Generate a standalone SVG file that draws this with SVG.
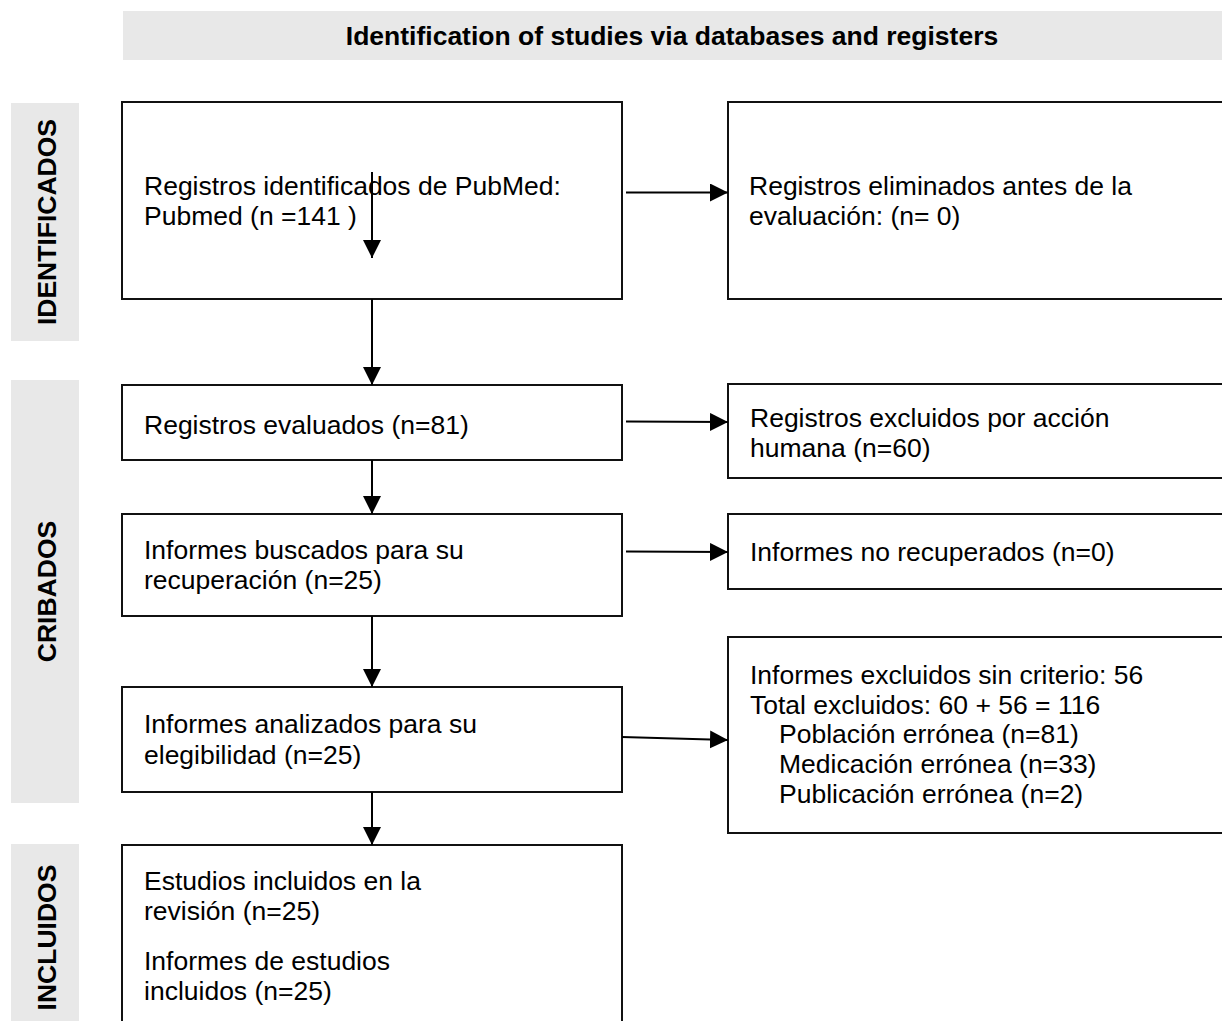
<svg xmlns="http://www.w3.org/2000/svg" width="1222" height="1021" viewBox="0 0 1222 1021">
<style>
.band{fill:#e8e8e8;}
.box{fill:#fff;stroke:#111;stroke-width:2;}
.t{font-family:"Liberation Sans",Arial,sans-serif;font-size:26.5px;fill:#000;}
.b{font-family:"Liberation Sans",Arial,sans-serif;font-size:26.5px;font-weight:bold;fill:#000;}
.c{stroke:#000;stroke-width:2;fill:none;marker-end:url(#ah);}
</style>
<defs>
<marker id="ah" markerUnits="userSpaceOnUse" markerWidth="18" markerHeight="18" viewBox="0 0 16 16" refX="16" refY="8" orient="auto">
<path d="M0,0 L16,8 L0,16 Z" fill="#000"/>
</marker>
</defs>
<rect width="1222" height="1021" fill="#fff"/>
<g id="header">
<rect class="band" x="123" y="11" width="1100" height="49"/>
<text class="b" x="672" y="45" text-anchor="middle">Identification of studies via databases and registers</text>
</g>
<g id="label-identificados">
<rect class="band" x="11" y="103" width="68" height="238"/>
<text class="b" transform="translate(56,222) rotate(-90)" text-anchor="middle">IDENTIFICADOS</text>
</g>
<g id="label-cribados">
<rect class="band" x="11" y="380" width="68" height="423"/>
<text class="b" transform="translate(56,591.5) rotate(-90)" text-anchor="middle">CRIBADOS</text>
</g>
<g id="label-incluidos">
<rect class="band" x="11" y="844" width="68" height="200"/>
<text class="b" transform="translate(56,937.5) rotate(-90)" text-anchor="middle">INCLUIDOS</text>
</g>
<g id="n1">
<rect class="box" x="122" y="102" width="500" height="197"/>
<text class="t" x="144" y="195">Registros identificados de PubMed:</text>
<text class="t" x="144" y="225">Pubmed (n =141 )</text>
</g>
<g id="n2">
<rect class="box" x="728" y="102" width="520" height="197"/>
<text class="t" x="749" y="195">Registros eliminados antes de la</text>
<text class="t" x="749" y="225">evaluación: (n= 0)</text>
</g>
<g id="n3">
<rect class="box" x="122" y="385" width="500" height="75"/>
<text class="t" x="144" y="434">Registros evaluados (n=81)</text>
</g>
<g id="n4">
<rect class="box" x="728" y="384" width="520" height="94"/>
<text class="t" x="750" y="427">Registros excluidos por acción</text>
<text class="t" x="750" y="457">humana (n=60)</text>
</g>
<g id="n5">
<rect class="box" x="122" y="514" width="500" height="102"/>
<text class="t" x="144" y="559">Informes buscados para su</text>
<text class="t" x="144" y="589">recuperación (n=25)</text>
</g>
<g id="n6">
<rect class="box" x="728" y="514" width="520" height="75"/>
<text class="t" x="750" y="561">Informes no recuperados (n=0)</text>
</g>
<g id="n7">
<rect class="box" x="122" y="687" width="500" height="105"/>
<text class="t" x="144" y="733">Informes analizados para su</text>
<text class="t" x="144" y="764">elegibilidad (n=25)</text>
</g>
<g id="n8">
<rect class="box" x="728" y="637" width="520" height="196"/>
<text class="t" x="750" y="684">Informes excluidos sin criterio: 56</text>
<text class="t" x="750" y="714">Total excluidos: 60 + 56 = 116</text>
<text class="t" x="779" y="743">Población errónea (n=81)</text>
<text class="t" x="779" y="773">Medicación errónea (n=33)</text>
<text class="t" x="779" y="803">Publicación errónea (n=2)</text>
</g>
<g id="n9">
<rect class="box" x="122" y="845" width="500" height="200"/>
<text class="t" x="144" y="890">Estudios incluidos en la</text>
<text class="t" x="144" y="920">revisión (n=25)</text>
<text class="t" x="144" y="970">Informes de estudios</text>
<text class="t" x="144" y="1000">incluidos (n=25)</text>
</g>
<g id="connectors">
<line class="c" x1="372" y1="172" x2="372" y2="258"/>
<line class="c" x1="372" y1="299" x2="372" y2="385"/>
<line class="c" x1="372" y1="460" x2="372" y2="514"/>
<line class="c" x1="372" y1="616" x2="372" y2="687"/>
<line class="c" x1="372" y1="792" x2="372" y2="845"/>
<line class="c" x1="626" y1="192.5" x2="728" y2="192.5"/>
<line class="c" x1="626" y1="421.5" x2="728" y2="422"/>
<line class="c" x1="626" y1="551.5" x2="728" y2="552"/>
<line class="c" x1="622" y1="737" x2="728" y2="740"/>
</g>
</svg>
